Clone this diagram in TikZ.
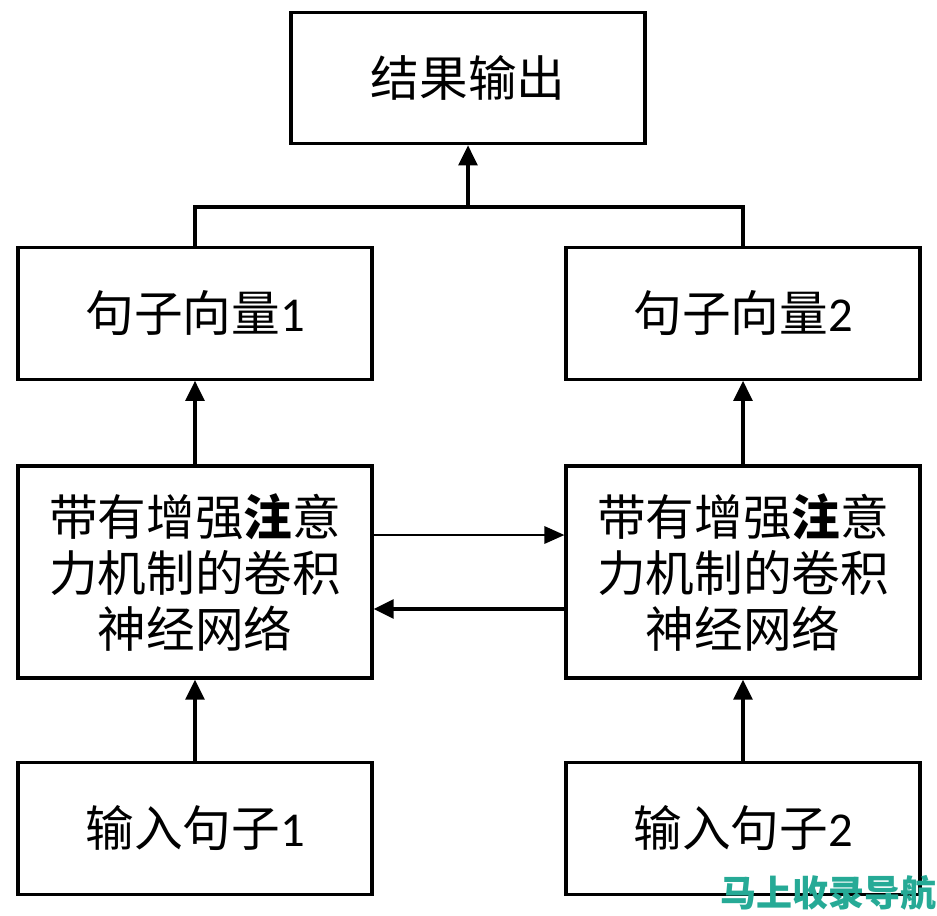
\documentclass[tikz,border=0pt]{standalone}
\usepackage{fontspec}
\setmainfont{Carlito}
\newfontfamily\cjk{Noto Sans CJK SC}
\usetikzlibrary{arrows.meta}
\definecolor{wmteal}{RGB}{38,170,150}
\begin{document}
\begin{tikzpicture}[x=0.75pt,y=-0.75pt,
  box/.style={draw=black,line width=2.4pt,fill=white,minimum width=265.5pt,minimum height=98.5pt,inner sep=0pt,align=center,
    font=\fontsize{36.5}{42}\selectfont},
  tallbox/.style={box,minimum height=159pt},
  conn/.style={line width=2.6pt},
  arr/.style={conn,-{Triangle[length=15pt,width=14pt]}},
  thinarr/.style={line width=1.6pt,-{Triangle[length=15pt,width=13pt]}}]
\useasboundingbox (0,0) rectangle (937,915);
\fill[white] (0,0) rectangle (937,915);
\node[box] (out) at (468,78) {\cjk 结果输出};
\node[box] (v1) at (195,313.5) {{\cjk 句子向量}1};
\node[box] (v2) at (743,313.5) {{\cjk 句子向量}2};
\node[tallbox] (c1) at (195,572) {\cjk 带有增强{\bfseries 注}意\\\cjk 力机制的卷积\\\cjk 神经网络};
\node[tallbox] (c2) at (743,572) {\cjk 带有增强{\bfseries 注}意\\\cjk 力机制的卷积\\\cjk 神经网络};
\node[box] (i1) at (195,828.5) {{\cjk 输入句子}1};
\node[box] (i2) at (743,828.5) {{\cjk 输入句子}2};
\coordinate (j) at (468,207);
\coordinate (ha) at (0,535);
\coordinate (hb) at (0,609);
\draw[conn] (v1.north) -- (v1.north |- j) -- (v2.north |- j) -- (v2.north);
\draw[arr] (j) -- (out.south);
\draw[arr] (c1.north) -- (v1.south);
\draw[arr] (c2.north) -- (v2.south);
\draw[arr] (i1.north) -- (c1.south);
\draw[arr] (i2.north) -- (c2.south);
\draw[thinarr] (c1.east |- ha) -- (c2.west |- ha);
\draw[arr] (c2.west |- hb) -- (c1.east |- hb);
\node[text=wmteal,font=\cjk\bfseries\fontsize{27}{30}\selectfont,inner sep=0pt,anchor=east] (wm) at (937,893) {马上收录导航};
\end{tikzpicture}
\end{document}
